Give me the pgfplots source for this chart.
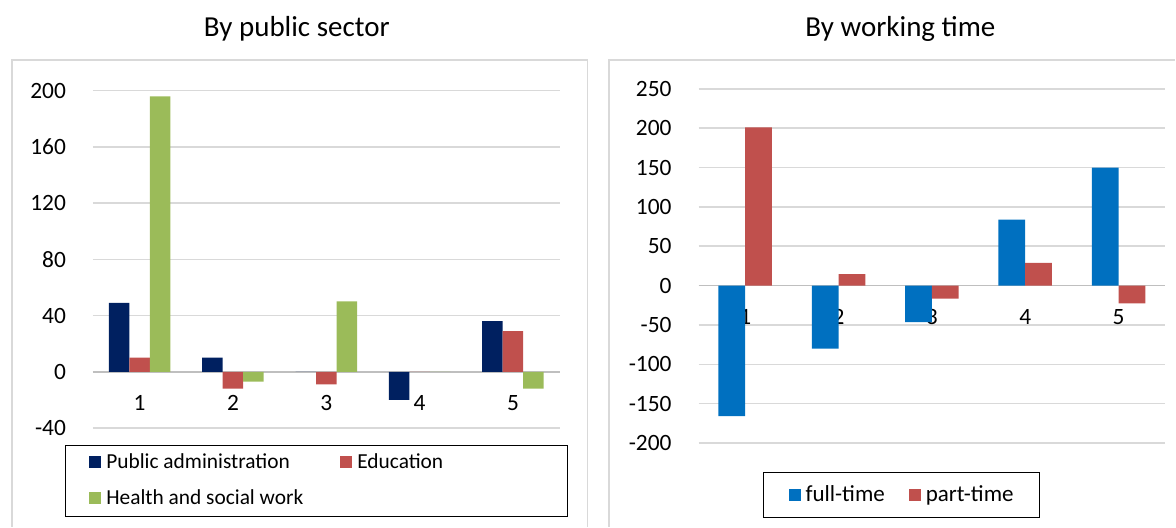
\documentclass[border=0pt]{standalone}
\usepackage{fontspec}
\setmainfont{Carlito}
\usepackage{pgfplots}
\pgfplotsset{compat=1.18}
\definecolor{navy}{HTML}{002060}
\definecolor{brick}{HTML}{C0504D}
\definecolor{olive}{HTML}{9BBB59}
\definecolor{azure}{HTML}{0070C0}
\definecolor{gridgray}{HTML}{D9D9D9}
\definecolor{tickgray}{HTML}{BFBFBF}

\pgfplotsset{
  layers/barsfirst/.define layer set={axis background,axis grid,main,axis ticks,axis lines,axis tick labels,axis descriptions,axis foreground}{},
  panel/.style={
    set layers=barsfirst,
    scale only axis,
    anchor=south west,
    width=233.5pt,
    xmin=0.5, xmax=5.5,
    axis x line*=middle,
    axis y line*=left,
    hide obscured x ticks=false,
    hide obscured y ticks=false,
    xtick={1,2,3,4,5},
    major x tick style={draw=none},
    extra x ticks={0.5,1.5,2.5,3.5,4.5,5.5},
    extra x tick labels={},
    extra x tick style={major tick length=3.5pt, tick align=outside, major tick style={draw=tickgray, line width=0.8pt}},
    x axis line style={draw=tickgray, line width=0.8pt},
    y axis line style={draw=none},
    ytick style={draw=none},
    ymajorgrids,
    grid style={draw=gridgray, line width=0.8pt},
    ybar=0pt,
    /pgf/number format/assume math mode=true,
    tick label style={font=\fontsize{11.7}{13}\selectfont},
    yticklabel style={xshift=-10pt},
    xticklabel style={yshift=-4pt},
    legend cell align=left,
    legend image code/.code={\fill[##1] (0pt,-3pt) rectangle (6pt,3pt);},
  },
}

\begin{document}
\begin{tikzpicture}
\path (0pt,0pt) rectangle (588pt,263.5pt);
\draw[gridgray, line width=0.8pt] (6pt,0pt) -- (6pt,233.5pt) -- (294pt,233.5pt) -- (294pt,0pt);
\draw[gridgray, line width=0.8pt] (304.75pt,0pt) -- (304.75pt,233.5pt) -- (588pt,233.5pt);
\node[font=\fontsize{14.5}{17}\selectfont] at (148.5pt,249pt) {By public sector};
\node[font=\fontsize{14.5}{17}\selectfont] at (450.5pt,249pt) {By working time};
\draw[black, line width=0.6pt] (32.75pt,5.15pt) rectangle (284pt,40.65pt);
\draw[black, line width=0.6pt] (382pt,4.65pt) rectangle (520.25pt,27.15pt);

\begin{axis}[panel,
  at={(46.5pt,49.35pt)},
  height=168.8pt,
  ymin=-40, ymax=200,
  ytick={-40,0,40,80,120,160,200},
  bar width=10.25pt,
  legend columns=2,
  legend style={draw=none, fill=none, inner sep=0pt,
    font=\fontsize{10.7}{12}\selectfont,
    at={(-0.0086,-0.1546)}, anchor=west,
    nodes={inner sep=0pt},
    row sep=9pt,
    /tikz/every odd column/.append style={column sep=2.5pt},
    /tikz/every even column/.append style={column sep=18.5pt}},
]
\addplot[fill=navy, draw=none] coordinates {(1,49) (2,10) (3,0) (4,-20) (5,36)};
\addplot[fill=brick, draw=none] coordinates {(1,10) (2,-12) (3,-9) (4,0) (5,29)};
\addplot[fill=olive, draw=none] coordinates {(1,196) (2,-7) (3,50) (4,0) (5,-12)};
\legend{Public administration, Education, Health and social work}
\end{axis}

\begin{axis}[panel,
  at={(349.5pt,41.85pt)},
  height=177.15pt,
  ymin=-200, ymax=250,
  ytick={-200,-150,-100,-50,0,50,100,150,200,250},
  bar width=13.4pt,
  legend columns=2,
  legend style={draw=none, fill=none, inner sep=0pt,
    font=\fontsize{11.5}{13}\selectfont,
    at={(0.1921,-0.1459)}, anchor=west,
    nodes={inner sep=0pt},
    /tikz/every odd column/.append style={column sep=2.5pt},
    /tikz/every even column/.append style={column sep=12pt}},
]
\addplot[fill=azure, draw=none] coordinates {(1,-166) (2,-80) (3,-46.5) (4,84) (5,150)};
\addplot[fill=brick, draw=none] coordinates {(1,201) (2,14.5) (3,-16.5) (4,29) (5,-22.5)};
\legend{full-time, part-time}
\end{axis}
\end{tikzpicture}
\end{document}
